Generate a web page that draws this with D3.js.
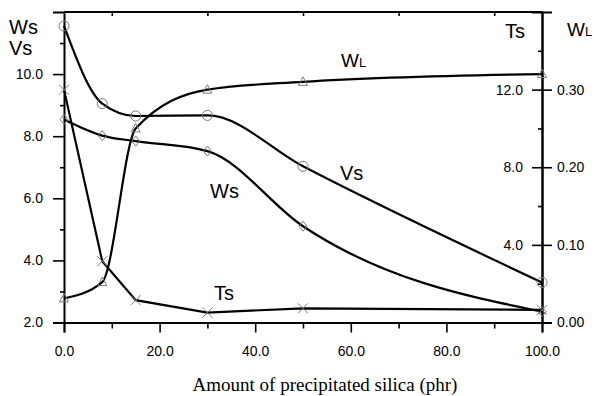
<!DOCTYPE html>
<html>
<head>
<meta charset="utf-8">
<script src="https://cdn.jsdelivr.net/npm/d3@7"></script>
<style>
  body { margin: 0; background: #fff; }
  text { font-family: Arial, "Liberation Sans", sans-serif; fill: #000; }
</style>
</head>
<body>
<div id="chart"></div>
<script>
// data
var silica = [0, 8, 15, 30, 50, 100];          // phr
var vsVals = [11.55, 9.05, 8.65, 8.67, 7.03, 3.29];   // left axis
var wsVals = [8.54, 8.02, 7.84, 7.52, 5.10, 2.35];    // left axis
var tsVals = [12.0, 3.16, 1.15, 0.51, 0.73, 0.65];    // Ts, right inner axis
var wlVals = [0.031, 0.052, 0.25, 0.30, 0.31, 0.32];  // WL, right outer axis

var xTicks = [0, 20, 40, 60, 80, 100];
var xMinor = [10, 30, 50, 70, 90];
var leftTicks = [2, 4, 6, 8, 10];
var leftMinor = [3, 5, 7, 9, 11];
var tsTicks = [4, 8, 12];
var wlTicks = [0, 0.1, 0.2, 0.3];
var rightMinor = [2, 6, 10, 14];

var W = 598, H = 396;
var plot = {left: 64, right: 542, top: 12, bottom: 322.5};

var svg = d3.select('#chart').append('svg')
    .attr('width', W)
    .attr('height', H);

var x = d3.scaleLinear().domain([0, 100]).range([plot.left, plot.right]);
var yL = d3.scaleLinear().domain([2, 12]).range([plot.bottom, plot.top]);
var yTs = d3.scaleLinear().domain([0, 16]).range([plot.bottom, plot.top]);
var yWL = d3.scaleLinear().domain([0, 0.4]).range([plot.bottom, plot.top]);

var f1 = d3.format('.1f'), f2 = d3.format('.2f');

function styleAxis(g) {
  g.selectAll('path.domain').attr('stroke', '#000').attr('stroke-width', 2);
  g.selectAll('.tick line').attr('stroke', '#000').attr('stroke-width', 1.6);
  g.selectAll('text').style('font-size', '14px').attr('fill', '#000');
}

// frame top + right
svg.append('line')
    .attr('x1', plot.left).attr('x2', plot.right)
    .attr('y1', plot.top).attr('y2', plot.top)
    .attr('stroke', '#000').attr('stroke-width', 2);

// top minor ticks (inward)
svg.append('g')
    .attr('transform', 'translate(0,' + plot.top + ')')
    .call(d3.axisBottom(x).tickValues(xMinor).tickSize(4).tickFormat(''))
    .call(styleAxis)
    .select('path.domain').remove();

// bottom axis
svg.append('g')
    .attr('transform', 'translate(0,' + plot.bottom + ')')
    .call(d3.axisBottom(x).tickValues(xTicks).tickSize(10).tickPadding(14).tickFormat(f1))
    .call(styleAxis);
svg.append('g')
    .attr('transform', 'translate(0,' + plot.bottom + ')')
    .call(d3.axisBottom(x).tickValues(xMinor).tickSize(6).tickFormat(''))
    .call(styleAxis)
    .select('path.domain').remove();

// left axis
svg.append('g')
    .attr('transform', 'translate(' + plot.left + ',0)')
    .call(d3.axisLeft(yL).tickValues(leftTicks).tickSize(11).tickPadding(10).tickFormat(f1))
    .call(styleAxis);
svg.append('g')
    .attr('transform', 'translate(' + plot.left + ',0)')
    .call(d3.axisLeft(yL).tickValues(leftMinor).tickSize(4).tickFormat(''))
    .call(styleAxis)
    .select('path.domain').remove();

// right axes: Ts labels inside, WL labels outside
svg.append('g')
    .attr('transform', 'translate(' + plot.right + ',0)')
    .call(d3.axisLeft(yTs).tickValues(tsTicks).tickSize(10).tickPadding(9).tickFormat(f1))
    .call(styleAxis);
svg.append('g')
    .attr('transform', 'translate(' + plot.right + ',0)')
    .call(d3.axisRight(yWL).tickValues(wlTicks).tickSize(10).tickPadding(5).tickFormat(f2))
    .call(styleAxis);
svg.append('g')
    .attr('transform', 'translate(' + plot.right + ',0)')
    .call(d3.axisLeft(yTs).tickValues(rightMinor).tickSize(4).tickFormat(''))
    .call(styleAxis)
    .select('path.domain').remove();

// curves
var series = [
  {vals: vsVals, y: yL, curve: d3.curveMonotoneX, mark: 'circle'},
  {vals: wsVals, y: yL, curve: d3.curveMonotoneX, mark: 'diamond'},
  {vals: tsVals, y: yTs, curve: d3.curveLinear, mark: 'cross'},
  {vals: wlVals, y: yWL, curve: d3.curveMonotoneX, mark: 'triangle'}
];

var markGray = '#7a7a7a';

series.forEach(function(s) {
  var pts = silica.map(function(d, i) { return [d, s.vals[i]]; });
  var line = d3.line()
      .x(function(d) { return x(d[0]); })
      .y(function(d) { return s.y(d[1]); })
      .curve(s.curve);

  svg.append('path')
      .datum(pts)
      .attr('d', line)
      .attr('fill', 'none')
      .attr('stroke', '#000')
      .attr('stroke-width', 2.2);

  var marks = svg.append('g').selectAll('path')
      .data(pts)
      .enter().append('path')
      .attr('transform', function(d) { return 'translate(' + x(d[0]) + ',' + s.y(d[1]) + ')'; })
      .attr('fill', 'none')
      .attr('stroke', markGray)
      .attr('stroke-width', 1);

  if (s.mark == 'circle') marks.attr('d', d3.symbol().type(d3.symbolCircle).size(80));
  if (s.mark == 'diamond') marks.attr('d', 'M0,-5L4,0L0,5L-4,0Z');
  if (s.mark == 'triangle') marks.attr('d', 'M0,-5L4.5,3.5L-4.5,3.5Z');
  if (s.mark == 'cross') marks.attr('d', 'M-5,-5L5,5M-5,5L5,-5');
});

// labels
function label(txt, lx, ly, size) {
  svg.append('text').attr('x', lx).attr('y', ly)
      .style('font-size', size + 'px').text(txt);
}
label('Ws', 9, 34, 20);
label('Vs', 9, 55, 20);
label('Ts', 505, 38, 20);
label('Vs', 340, 180, 20);
label('Ws', 210, 198, 20);
label('Ts', 214, 300, 20);

var wl1 = svg.append('text').attr('x', 341).attr('y', 67).style('font-size', '19px');
wl1.append('tspan').text('W');
wl1.append('tspan').style('font-size', '13px').text('L');

var wl2 = svg.append('text').attr('x', 567).attr('y', 36).style('font-size', '19px');
wl2.append('tspan').text('W');
wl2.append('tspan').style('font-size', '13px').text('L');

svg.append('text')
    .attr('x', 325).attr('y', 391)
    .attr('text-anchor', 'middle')
    .style('font-family', '"Liberation Serif", "Times New Roman", serif')
    .style('font-size', '19px')
    .text('Amount of precipitated silica (phr)');
</script>
</body>
</html>
